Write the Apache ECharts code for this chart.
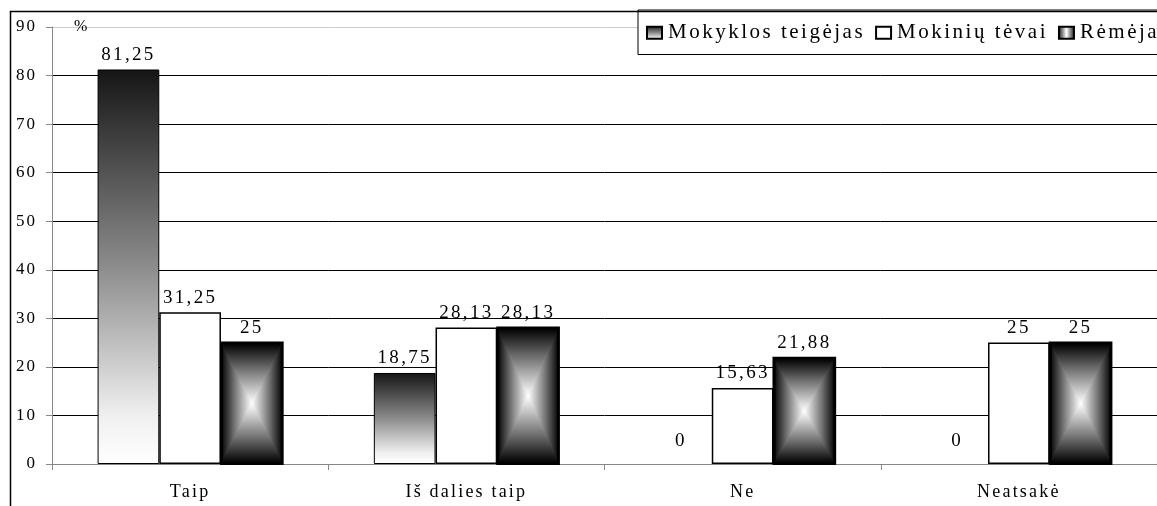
<!DOCTYPE html>
<html>
<head>
<meta charset="utf-8">
<script src="https://cdn.jsdelivr.net/npm/echarts@6/dist/echarts.min.js"></script>
<style>
  html, body { margin: 0; padding: 0; background: #fff; }
  #chart { width: 1157px; height: 506px; }
</style>
</head>
<body>
<div id="chart"></div>
<script>
// duomenys
const kategorijos = ['Taip', 'Iš dalies taip', 'Ne', 'Neatsakė'];
const serijuVardai = ['Mokyklos teigėjas', 'Mokinių tėvai', 'Rėmėja'];
const teigejai = [81.25, 18.75, 0, 0];
const tevai = [31.25, 28.13, 15.63, 25];
const remeja = [25, 28.13, 21.88, 25];
const yTicks = [0, 10, 20, 30, 40, 50, 60, 70, 80, 90];

const SERIF = '"Liberation Serif", "DejaVu Serif", serif';
const GAP = 0.33;

// originale tekstas su retinimu tarp raidziu - canvas letterSpacing pagal srifto dydi
const fontDesc = Object.getOwnPropertyDescriptor(CanvasRenderingContext2D.prototype, 'font');
Object.defineProperty(CanvasRenderingContext2D.prototype, 'font', {
  get() { return fontDesc.get.call(this); },
  set(v) {
    fontDesc.set.call(this, v);
    const m = /(\d+(?:\.\d+)?)px/.exec(v);
    if (m && 'letterSpacing' in this) this.letterSpacing = (parseFloat(m[1]) * 0.12).toFixed(1) + 'px';
  }
});

const chart = echarts.init(document.getElementById('chart'));

const kablelis = p => String(p.value).replace('.', ',');

// nulines reiksmes: etikete aukščiau, be remelio
const suNuliais = arr => arr.map(v => v === 0
  ? { value: v, label: { distance: 12 }, itemStyle: { borderWidth: 0 } }
  : v);

const horizGrad = {
  type: 'linear', x: 0, y: 0, x2: 1, y2: 0,
  colorStops: [
    { offset: 0, color: '#000' }, { offset: 0.2, color: '#6a6a6a' },
    { offset: 0.5, color: '#fff' },
    { offset: 0.8, color: '#6a6a6a' }, { offset: 1, color: '#000' }
  ]
};

const etikete = { show: true, position: 'top', distance: 4, fontFamily: SERIF, fontSize: 19, color: '#000', formatter: kablelis };

chart.setOption({
  animation: false,
  textStyle: { fontFamily: SERIF },
  graphic: [{
    type: 'rect', left: 8, top: 9, silent: true, z: 100,
    shape: { width: 1200, height: 600 },
    style: { fill: 'none', stroke: '#000', lineWidth: 1.5 }
  }],
  grid: { left: 52, top: 27, height: 437, width: 1112 },
  legend: {
    data: serijuVardai,
    left: 638, top: 10, width: 700,
    padding: [11, 10, 10, 8],
    itemGap: 10, itemWidth: 15, itemHeight: 12,
    icon: 'rect',
    borderColor: '#000', borderWidth: 1, backgroundColor: '#fff',
    textStyle: { fontFamily: SERIF, fontSize: 21, color: '#000', padding: [0, 0, 0, 1] },
    selectedMode: false,
    z: 10
  },
  xAxis: {
    type: 'category',
    data: kategorijos,
    axisLine: { lineStyle: { color: '#888', width: 1 } },
    axisTick: { show: true, length: 6, alignWithLabel: false, lineStyle: { color: '#888' } },
    axisLabel: { fontFamily: SERIF, fontSize: 18, color: '#000', margin: 18 },
    splitLine: { show: false }
  },
  yAxis: {
    type: 'value',
    min: yTicks[0], max: yTicks[yTicks.length - 1], interval: 10,
    name: '%', nameLocation: 'end', nameGap: 0,
    nameTextStyle: { fontFamily: SERIF, fontSize: 16, color: '#000', align: 'left', verticalAlign: 'middle', padding: [0, 0, 4, 22] },
    axisLine: { show: true, lineStyle: { color: '#888', width: 1 } },
    axisTick: { show: true, length: 6, lineStyle: { color: '#888' } },
    axisLabel: { fontFamily: SERIF, fontSize: 17, color: '#000', margin: 15 },
    splitLine: {
      show: true,
      lineStyle: { color: ['#000', '#000', '#000', '#000', '#000', '#000', '#000', '#000', '#000', '#ccc'], width: 1 }
    }
  },
  series: [
    {
      name: serijuVardai[0], type: 'bar', data: suNuliais(teigejai),
      barGap: 0, barCategoryGap: (GAP * 100) + '%',
      itemStyle: {
        borderColor: '#000', borderWidth: 1,
        color: {
          type: 'linear', x: 0, y: 0, x2: 0, y2: 1,
          colorStops: [
            { offset: 0, color: '#151515' }, { offset: 0.5, color: '#8c8c8c' },
            { offset: 0.88, color: '#f0f0f0' }, { offset: 1, color: '#fff' }
          ]
        }
      },
      label: etikete
    },
    {
      name: serijuVardai[1], type: 'bar', data: tevai,
      barGap: 0, barCategoryGap: (GAP * 100) + '%',
      itemStyle: { color: '#fff', borderColor: '#000', borderWidth: 1.5 },
      label: etikete
    },
    {
      name: serijuVardai[2], type: 'bar', data: remeja,
      barGap: 0, barCategoryGap: (GAP * 100) + '%',
      itemStyle: { color: horizGrad, borderColor: '#000', borderWidth: 2 },
      label: etikete
    },
    {
      // staciakampis gradientas is centro: virsutinis ir apatinis trikampiai
      type: 'custom', data: remeja.map((v, i) => [i, v]), z: 3, silent: true,
      renderItem: (params, api) => {
        const i = api.value(0), v = api.value(1);
        const top = api.coord([i, v]);
        const base = api.coord([i, 0]);
        const band = api.size([1, 0])[0];
        const w = band * (1 - GAP) / 3;
        const cx = top[0] + w;
        const ins = 1;
        const x0 = cx - w / 2 + ins, x1 = cx + w / 2 - ins;
        const y0 = top[1] + ins, y1 = base[1] - ins;
        const cy = (y0 + y1) / 2;
        return {
          type: 'group',
          children: [
            {
              type: 'polygon',
              shape: { points: [[x0, y0], [x1, y0], [cx, cy]] },
              style: {
                fill: {
                  type: 'linear', x: 0, y: 0, x2: 0, y2: 1,
                  colorStops: [{ offset: 0, color: '#000' }, { offset: 0.4, color: '#6a6a6a' }, { offset: 1, color: '#fff' }]
                }
              }
            },
            {
              type: 'polygon',
              shape: { points: [[x0, y1], [x1, y1], [cx, cy]] },
              style: {
                fill: {
                  type: 'linear', x: 0, y: 0, x2: 0, y2: 1,
                  colorStops: [{ offset: 0, color: '#fff' }, { offset: 0.6, color: '#6a6a6a' }, { offset: 1, color: '#000' }]
                }
              }
            },
            {
              type: 'rect',
              shape: { x: cx - w / 2, y: top[1], width: w, height: base[1] - top[1] },
              style: { fill: 'none', stroke: '#000', lineWidth: 2 }
            }
          ]
        };
      }
    }
  ]
});
</script>
</body>
</html>
